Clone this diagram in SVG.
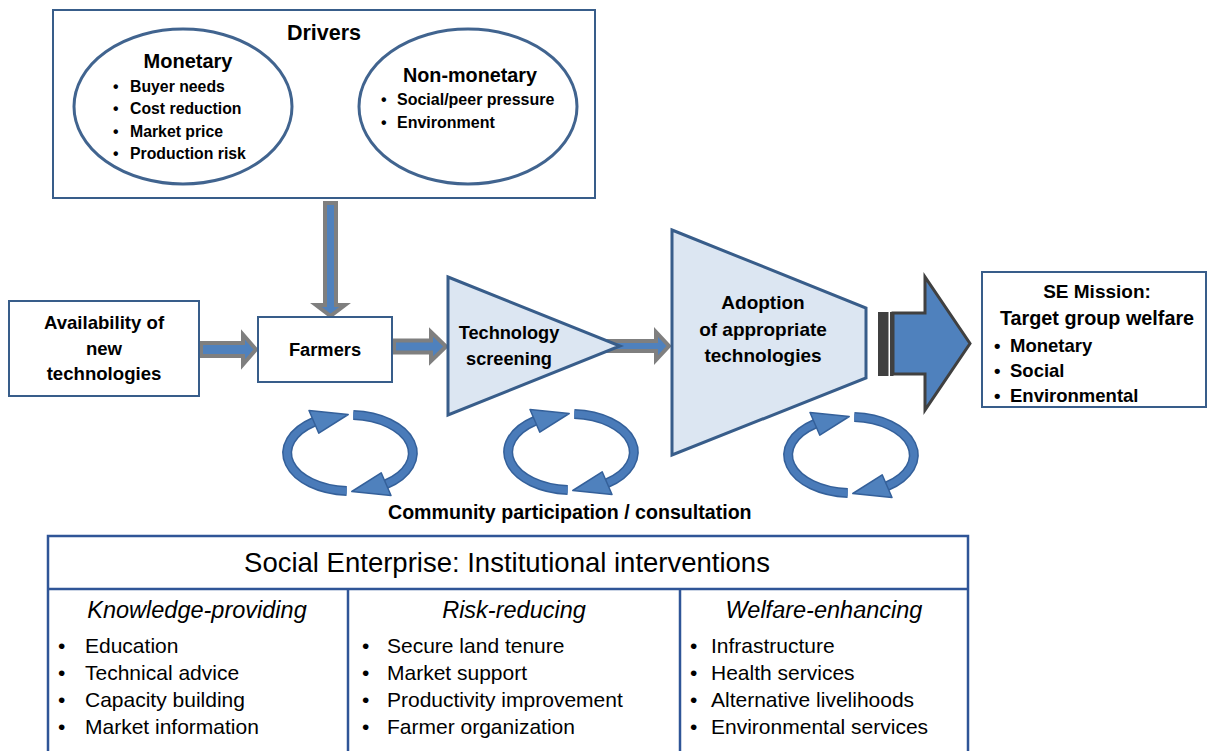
<svg xmlns="http://www.w3.org/2000/svg" xmlns:xlink="http://www.w3.org/1999/xlink" width="1207" height="751" viewBox="0 0 1207 751">
<style>
  .box{fill:#ffffff;stroke:#385d8a;stroke-width:2}
  .ell{fill:#ffffff;stroke:#41648f;stroke-width:3}
  .funnel{fill:#dce6f2;stroke:#385d8a;stroke-width:3}
  .garrow{fill:#4f81bd;stroke:#7f7f7f;stroke-width:4;stroke-linejoin:miter}
  .b{font-family:"Liberation Sans",Arial,sans-serif;font-weight:bold;fill:#000}
  .r{font-family:"Liberation Sans",Arial,sans-serif;fill:#000}
  .i{font-family:"Liberation Sans",Arial,sans-serif;font-style:italic;fill:#000}
  .tbl{fill:none;stroke:#2f5597;stroke-width:2.5}
  .cyc-out{fill:none;stroke:#34609a;stroke-width:10}
  .cyc-in{fill:none;stroke:#4a7bb9;stroke-width:7}
  .cyc-head{fill:#4f81bd;stroke:#34609a;stroke-width:1.5;stroke-linejoin:round}
</style>
<defs>
  <g id="cycle">
    <path class="cyc-out" d="M 3.3,-37.9 A 63 38 0 0 1 36.1,31.1"/>
    <path class="cyc-in" d="M 3.3,-37.9 A 63 38 0 0 1 36.1,31.1"/>
    <polygon class="cyc-head" points="41,42.5 31.2,19.8 1.8,38.5"/>
    <path class="cyc-out" d="M -3.3,37.9 A 63 38 0 0 1 -36.1,-31.1"/>
    <path class="cyc-in" d="M -3.3,37.9 A 63 38 0 0 1 -36.1,-31.1"/>
    <polygon class="cyc-head" points="-41,-42.5 -31.2,-19.8 -1.8,-38.5"/>
  </g>
</defs>
<rect width="1207" height="751" fill="#ffffff"/>

<g id="connectors">
  <polygon class="garrow" points="325,203 336,203 336,305 345,305 330.5,316 316,305 325,305"/>
  <polygon class="garrow" points="201,343 243,343 243,334.5 256,349.5 243,364.5 243,356 201,356"/>
  <polygon class="garrow" points="394,340.5 431,340.5 431,332 446,346.5 431,361 431,352.5 394,352.5"/>
  <polygon class="garrow" points="605,341 656,341 656,332 669,346 656,360 656,351 605,351"/>
  <g id="mission-arrow">
    <rect x="878" y="312" width="10.5" height="64" fill="#404040"/>
    <rect x="890" y="312" width="3.5" height="64" fill="#404040"/>
    <polygon points="893,313 925,313 925,277 970,343.5 925,410 925,374 893,374" fill="#4f81bd" stroke="#404040" stroke-width="3"/>
  </g>
</g>

<g id="drivers">
  <rect class="box" x="53" y="10" width="542" height="188"/>
  <text class="b" x="324" y="40" font-size="21.5" text-anchor="middle">Drivers</text>
  <g id="monetary">
    <ellipse class="ell" cx="183" cy="106.5" rx="109" ry="77.5"/>
    <text class="b" x="188" y="68" font-size="20" text-anchor="middle">Monetary</text>
    <text class="b" font-size="15.8"><tspan x="113" y="92">•</tspan><tspan x="130" y="92">Buyer needs</tspan></text>
    <text class="b" font-size="15.8"><tspan x="113" y="114">•</tspan><tspan x="130" y="114">Cost reduction</tspan></text>
    <text class="b" font-size="15.8"><tspan x="113" y="137">•</tspan><tspan x="130" y="137">Market price</tspan></text>
    <text class="b" font-size="15.8"><tspan x="113" y="159">•</tspan><tspan x="130" y="159">Production risk</tspan></text>
  </g>
  <g id="non-monetary">
    <ellipse class="ell" cx="468" cy="106.5" rx="109" ry="77.5"/>
    <text class="b" x="470" y="82" font-size="19.8" text-anchor="middle">Non-monetary</text>
    <text class="b" font-size="16"><tspan x="381" y="105">•</tspan><tspan x="397" y="105">Social/peer pressure</tspan></text>
    <text class="b" font-size="16"><tspan x="381" y="128">•</tspan><tspan x="397" y="128">Environment</tspan></text>
  </g>
</g>

<g id="availability">
  <rect class="box" x="9" y="301" width="190" height="95"/>
  <text class="b" font-size="18.6" text-anchor="middle"><tspan x="104" y="329">Availability of</tspan><tspan x="104" y="355">new</tspan><tspan x="104" y="380">technologies</tspan></text>
</g>

<g id="farmers">
  <rect class="box" x="258" y="317" width="134" height="65"/>
  <text class="b" x="325" y="356" font-size="18.3" text-anchor="middle">Farmers</text>
</g>

<g id="screening">
  <polygon class="funnel" points="448,277 620,346 448,415"/>
  <text class="b" font-size="18.2" text-anchor="middle"><tspan x="509" y="339">Technology</tspan><tspan x="509" y="365">screening</tspan></text>
</g>

<g id="adoption">
  <polygon class="funnel" points="672,230 866,308 866,378 672,455"/>
  <text class="b" font-size="19" text-anchor="middle"><tspan x="763" y="309">Adoption</tspan><tspan x="763" y="336">of appropriate</tspan><tspan x="763" y="362">technologies</tspan></text>
</g>

<g id="mission">
  <rect class="box" x="982" y="272" width="224" height="135"/>
  <text class="b" x="1097" y="298" font-size="19" text-anchor="middle">SE Mission:</text>
  <text class="b" x="1097" y="325" font-size="19.8" text-anchor="middle">Target group welfare</text>
  <text class="b" font-size="18.5"><tspan x="994" y="352">•</tspan><tspan x="1010" y="352">Monetary</tspan></text>
  <text class="b" font-size="18.5"><tspan x="994" y="377">•</tspan><tspan x="1010" y="377">Social</tspan></text>
  <text class="b" font-size="18.5"><tspan x="994" y="402">•</tspan><tspan x="1010" y="402">Environmental</tspan></text>
</g>

<g id="participation">
  <use xlink:href="#cycle" href="#cycle" transform="translate(350,453)"/>
  <use xlink:href="#cycle" href="#cycle" transform="translate(571,452)"/>
  <use xlink:href="#cycle" href="#cycle" transform="translate(851,455)"/>
  <text class="b" x="388" y="519" font-size="19.6">Community participation / consultation</text>
</g>

<g id="interventions">
  <rect class="tbl" x="48" y="536" width="920" height="240"/>
  <line class="tbl" x1="48" y1="589" x2="968" y2="589"/>
  <line class="tbl" x1="348" y1="589" x2="348" y2="760"/>
  <line class="tbl" x1="680" y1="589" x2="680" y2="760"/>
  <text class="r" x="507" y="572" font-size="27.5" text-anchor="middle">Social Enterprise: Institutional interventions</text>
  <g id="knowledge">
    <text class="i" x="197" y="618" font-size="23.5" text-anchor="middle">Knowledge-providing</text>
    <text class="r" font-size="21"><tspan x="58" y="653">•</tspan><tspan x="85" y="653">Education</tspan></text>
    <text class="r" font-size="21"><tspan x="58" y="680">•</tspan><tspan x="85" y="680">Technical advice</tspan></text>
    <text class="r" font-size="21"><tspan x="58" y="707">•</tspan><tspan x="85" y="707">Capacity building</tspan></text>
    <text class="r" font-size="21"><tspan x="58" y="734">•</tspan><tspan x="85" y="734">Market information</tspan></text>
  </g>
  <g id="risk">
    <text class="i" x="514" y="618" font-size="23.5" text-anchor="middle">Risk-reducing</text>
    <text class="r" font-size="21"><tspan x="362" y="653">•</tspan><tspan x="387" y="653">Secure land tenure</tspan></text>
    <text class="r" font-size="21"><tspan x="362" y="680">•</tspan><tspan x="387" y="680">Market support</tspan></text>
    <text class="r" font-size="21"><tspan x="362" y="707">•</tspan><tspan x="387" y="707">Productivity improvement</tspan></text>
    <text class="r" font-size="21"><tspan x="362" y="734">•</tspan><tspan x="387" y="734">Farmer organization</tspan></text>
  </g>
  <g id="welfare">
    <text class="i" x="824" y="618" font-size="23.5" text-anchor="middle">Welfare-enhancing</text>
    <text class="r" font-size="21"><tspan x="690" y="653">•</tspan><tspan x="711" y="653">Infrastructure</tspan></text>
    <text class="r" font-size="21"><tspan x="690" y="680">•</tspan><tspan x="711" y="680">Health services</tspan></text>
    <text class="r" font-size="21"><tspan x="690" y="707">•</tspan><tspan x="711" y="707">Alternative livelihoods</tspan></text>
    <text class="r" font-size="21"><tspan x="690" y="734">•</tspan><tspan x="711" y="734">Environmental services</tspan></text>
  </g>
</g>
</svg>
